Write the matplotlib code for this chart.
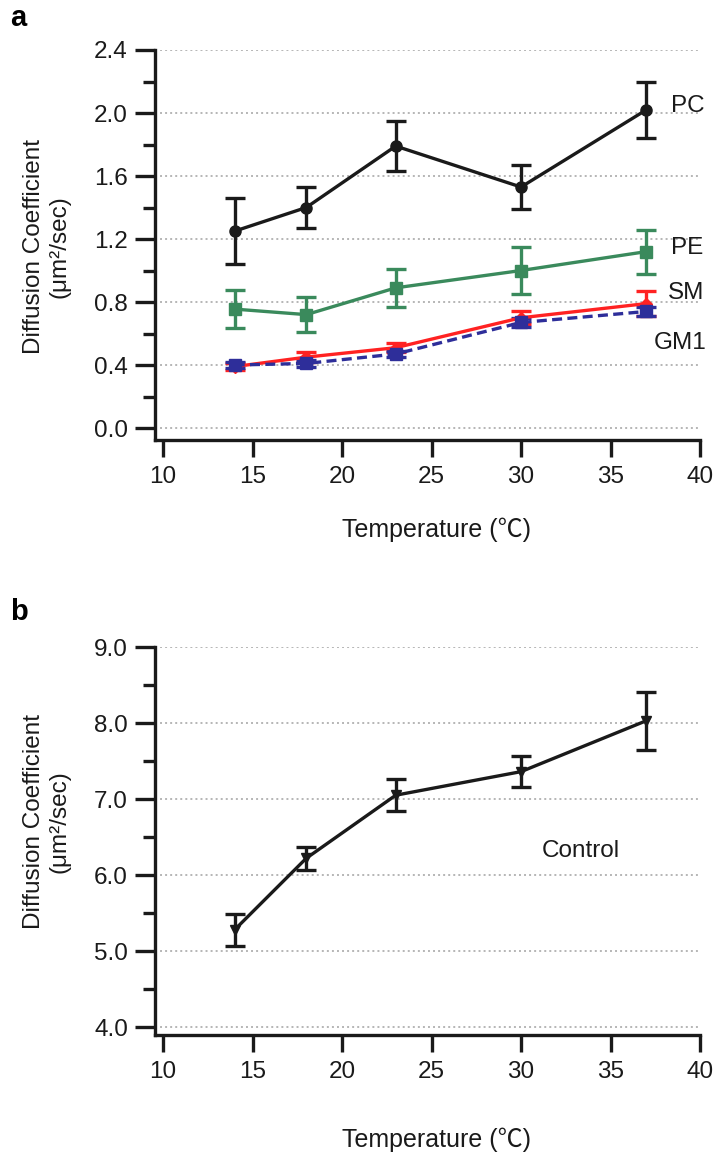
import matplotlib
matplotlib.use("Agg")
import matplotlib.pyplot as plt
from matplotlib.ticker import MultipleLocator

plt.rcParams['font.family'] = ['Liberation Sans', 'Noto Sans CJK SC', 'DejaVu Sans']

# temperatures (degrees C)
temps = [14, 18, 23, 30, 37]

# panel a: lipid diffusion coefficients (um^2/sec) with error bars
pc = [1.25, 1.40, 1.79, 1.53, 2.02]
pc_err = [0.21, 0.13, 0.16, 0.14, 0.18]
pe = [0.755, 0.72, 0.89, 1.00, 1.12]
pe_err = [0.12, 0.11, 0.12, 0.15, 0.14]
sm = [0.39, 0.45, 0.51, 0.70, 0.79]
sm_err = [0.02, 0.03, 0.03, 0.04, 0.08]
gm1 = [0.40, 0.41, 0.47, 0.67, 0.74]
gm1_err = [0.02, 0.02, 0.02, 0.03, 0.03]

# panel b: control
ctrl = [5.28, 6.22, 7.05, 7.36, 8.03]
ctrl_err = [0.21, 0.15, 0.21, 0.20, 0.38]

series_a = [
    ("PC", pc, pc_err, "#1a1a1a", "o", "-", (39.3, 2.045)),
    ("PE", pe, pe_err, "#3a8a5c", "s", "-", (39.3, 1.143)),
    ("SM", sm, sm_err, "#ff2222", "D", "-", (39.2, 0.857)),
    ("GM1", gm1, gm1_err, "#2e2e9a", "s", (0, (3, 1.6)), (38.9, 0.54)),
]

W, H = 721, 1155
fig = plt.figure(figsize=(W / 100, H / 100), dpi=100)
txt = "#1a1a1a"


def style_axes(ax, ymin, ymax, ymajor, yminor):
    ax.set_xlim(9.55, 40)
    ax.set_ylim(ymin, ymax)
    ax.xaxis.set_major_locator(MultipleLocator(5))
    ax.yaxis.set_major_locator(MultipleLocator(ymajor))
    ax.yaxis.set_minor_locator(MultipleLocator(yminor))
    ax.yaxis.set_major_formatter(lambda v, p: f"{v:.1f}")
    for s in ("top", "right"):
        ax.spines[s].set_visible(False)
    for s in ("left", "bottom"):
        ax.spines[s].set_linewidth(2.4)
        ax.spines[s].set_color(txt)
    ax.tick_params(axis="y", which="major", length=14.5, width=2.4, pad=5,
                   labelsize=17.5, color=txt, labelcolor=txt)
    ax.tick_params(axis="y", which="minor", length=8.5, width=2.4, color=txt)
    ax.tick_params(axis="x", which="major", length=12.5, width=2.4, pad=6,
                   labelsize=17.5, color=txt, labelcolor=txt)
    ax.grid(axis="y", which="major", color="#b5b5b5", linestyle=(0, (1, 1.6)),
            linewidth=1.4)
    ax.set_axisbelow(True)


def labels(ax, ly, xy):
    ax.set_ylabel("Diffusion Coefficient\n(μm²/sec)", fontsize=17.5,
                  linespacing=1.2, color=txt)
    ax.yaxis.label.set_va("center")
    ax.yaxis.set_label_coords(-0.198, ly)
    ax.set_xlabel("Temperature (℃)", fontsize=18, va="center", color=txt,
                  family=["Liberation Sans", "Noto Sans CJK SC"])
    ax.xaxis.set_label_coords(0.516, xy)


# ---- panel a ----
ax1 = fig.add_axes([155 / W, 1 - 440 / H, 545 / W, 390 / H])
style_axes(ax1, -0.076, 2.4, 0.4, 0.2)
for name, vals, err, col, mk, ls, pos in series_a:
    ax1.errorbar(temps, vals, yerr=err, color=col, marker=mk,
                 markersize=8 if mk != "D" else 6,
                 linestyle=ls, linewidth=2.4, elinewidth=2.4, capsize=7.5,
                 capthick=2.4, zorder=3)
    ax1.text(pos[0], pos[1], name, fontsize=17.5, ha="center", va="center",
             color=txt, clip_on=False)
labels(ax1, 0.495, -0.231)
fig.text(10 / W, 1 - 18 / H, "a", fontsize=21, fontweight="bold", va="center")

# ---- panel b ----
ax2 = fig.add_axes([155 / W, 1 - 1035 / H, 545 / W, 388 / H])
style_axes(ax2, 3.895, 9.0, 1.0, 0.5)
ax2.errorbar(temps, ctrl, yerr=ctrl_err, color=txt, marker="v", markersize=7,
             linestyle="-", linewidth=2.4, elinewidth=2.4, capsize=7.5,
             capthick=2.4, zorder=3)
ax2.text(33.35, 6.32, "Control", fontsize=17.5, ha="center", va="center", color=txt)
labels(ax2, 0.549, -0.27)
fig.text(10 / W, 1 - 612 / H, "b", fontsize=21, fontweight="bold", va="center")

fig.savefig("out.png", dpi=100)
